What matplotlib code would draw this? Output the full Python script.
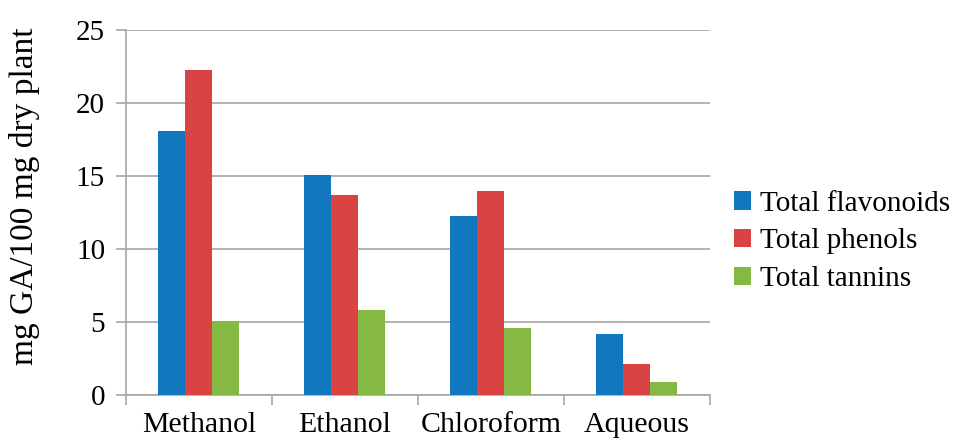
import numpy as np
import matplotlib
matplotlib.use('Agg')
import matplotlib.pyplot as plt

plt.rcParams['font.family'] = ['Liberation Serif', 'DejaVu Serif']

# Extract solvents and measured contents (mg GA / 100 mg dry plant)
solvents = ['Methanol', 'Ethanol', 'Chloroform', 'Aqueous']
flavonoids = [18.1, 15.1, 12.3, 4.2]
phenols = [22.3, 13.7, 14.0, 2.1]
tannins = [5.1, 5.8, 4.6, 0.9]
series_names = ['Total flavonoids', 'Total phenols', 'Total tannins']
y_ticks = [0, 5, 10, 15, 20, 25]

colors = ['#1177BE', '#D94343', '#86B943']
grid_col = '#A6A6A6'

fig = plt.figure(figsize=(9.54, 4.43), dpi=100)
ax = fig.add_axes([0.132, 0.108, 0.612, 0.824])

x = np.arange(len(solvents))
w = 0.185
for i, (vals, name) in enumerate(zip([flavonoids, phenols, tannins], series_names)):
    ax.bar(x + (i - 1) * w, vals, width=w, color=colors[i], label=name, zorder=3)

ax.set_xlim(-0.5, len(solvents) - 0.5)
ax.set_ylim(0, 25)
ax.set_yticks(y_ticks)
ax.yaxis.grid(True, color=grid_col, lw=1.2, zorder=0)
ax.set_axisbelow(True)

ax.set_xticks(x)
ax.set_xticklabels(solvents)
ax.set_xticks(np.arange(len(solvents) + 1) - 0.5, minor=True)
ax.tick_params(axis='x', which='major', length=0, pad=12, labelsize=21.5)
ax.tick_params(axis='x', which='minor', length=7, width=1.2, color=grid_col)
ax.tick_params(axis='y', length=7, width=1.2, color=grid_col, pad=8, labelsize=21)

for side in ['top', 'right']:
    ax.spines[side].set_visible(False)
for side in ['left', 'bottom']:
    ax.spines[side].set_color(grid_col)
    ax.spines[side].set_linewidth(1.2)

ax.set_ylabel('mg GA/100 mg dry plant', fontsize=24)
ax.yaxis.set_label_coords(-0.148, 0.545)

fig.legend(loc='center left', bbox_to_anchor=(0.757, 0.455), frameon=False,
           fontsize=21, handlelength=0.6, handleheight=0.6, handletextpad=0.3,
           labelspacing=0.4, borderaxespad=0)

fig.savefig('out.png', dpi=100)
